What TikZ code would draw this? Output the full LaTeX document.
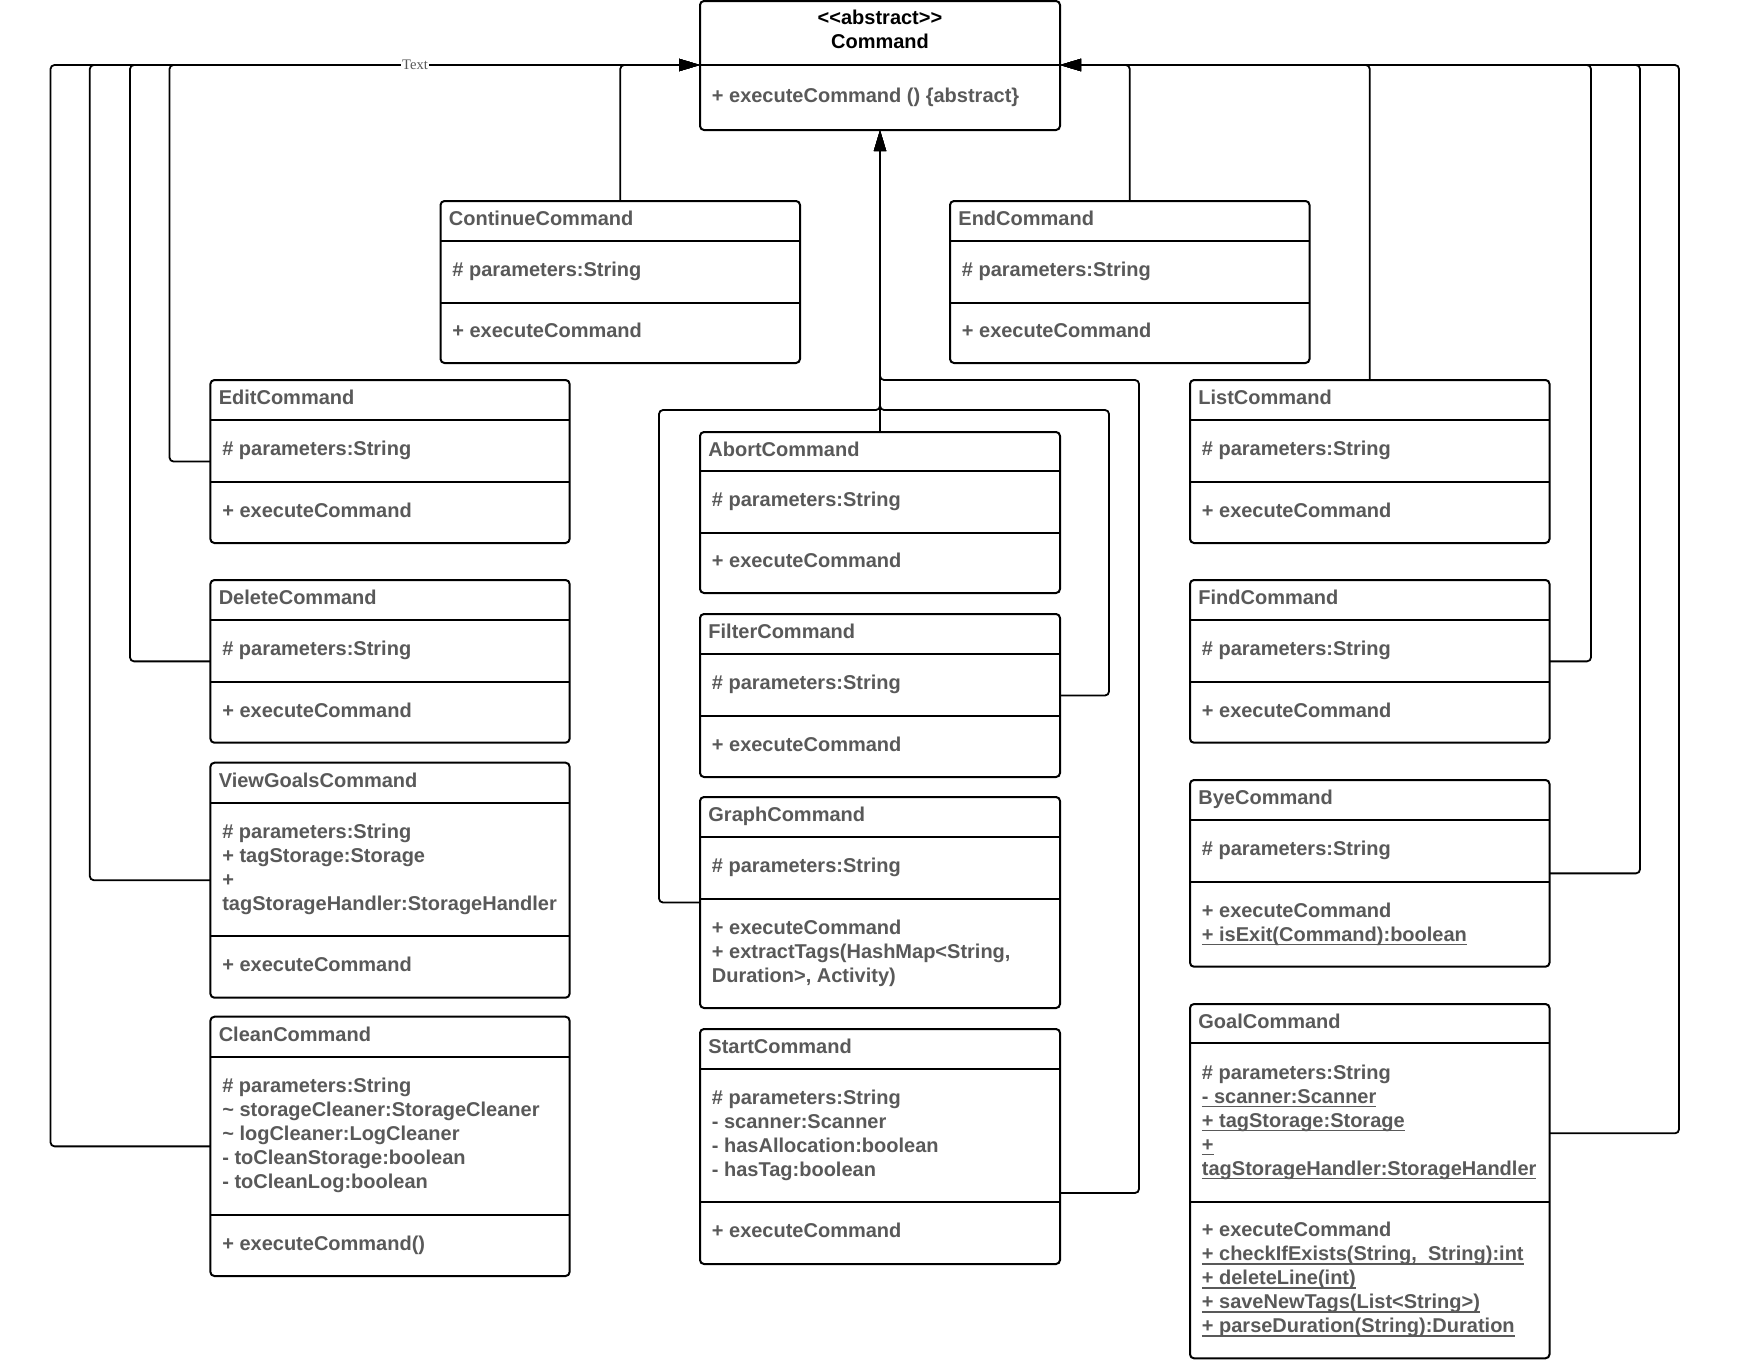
\documentclass[tikz,border=0pt]{standalone}
\usepackage{fontspec}
\setmainfont{Liberation Sans}
\newfontfamily\lblfont{Liberation Serif}
\usetikzlibrary{arrows.meta}
\definecolor{tgray}{RGB}{89,89,89}
\newcommand\NL{\\\strut}
\newcommand\ulx[1]{\setbox0\hbox{#1}\rlap{\vrule height -1.2pt depth 2pt width \wd0}\box0}
\newcommand\setcol[2]{\def\colA{#1}\def\colB{#2}}
\newcommand\cls[8]{%
  \pgfmathsetmacro\clsW{(\colB-\colA)*0.5}%
  \pgfmathsetmacro\clsH{(#5-#2)*0.5}%
  \node[clsbox, minimum width=\clsW pt, minimum height=\clsH pt, anchor=north west] (#1) at (\colA,#2) {};
  \draw[divline] (\colA,#3) -- (\colB,#3) (\colA,#4) -- (\colB,#4);
  \node[ttl] (#1-name) at (\colA+8,{(#2+#3)/2}) {\strut #6};
  \node[mem] (#1-attr) at (\colA+11.5,{(#3+#4)/2}) {\strut #7};
  \node[mem] (#1-ops) at (\colA+11.5,{(#4+#5)/2}) {\strut #8};
}
\begin{document}
\begin{tikzpicture}[x=0.5pt,y=-0.5pt,
  clsbox/.style={draw=black, line width=1pt, rounded corners=2pt, inner sep=0pt, outer sep=0pt, fill=white},
  divline/.style={line width=1pt},
  ttl/.style={anchor=west, inner sep=0pt, align=left, font=\bfseries\fontsize{10}{12}\selectfont, text=tgray},
  mem/.style={ttl},
  conn/.style={line width=0.9pt, rounded corners=2pt},
  inh/.style={conn, -{Triangle[length=10.5pt,width=6pt]}}]
\useasboundingbox (0,0) rectangle (1760,1360);

% abstract Command
\node[clsbox, minimum width=180pt, minimum height=64.5pt, anchor=north west] (cmd) at (700,1) {};
\draw[divline] (700,65) -- (1060,65);
\node[inner sep=0pt, align=center, font=\bfseries\fontsize{10}{12}\selectfont, text=black] (cmd-name) at (880,32) {\strut <{}<abstract>{}>\NL Command};
\node[mem] (cmd-ops) at (711.5,97.5) {\strut + executeCommand () \{abstract\}};
\coordinate (cmdL) at ([yshift=-32pt]cmd.north west);
\coordinate (cmdR) at ([yshift=-32pt]cmd.north east);

\setcol{440.5}{800}
\cls{cont}{201}{240.7}{303}{363}{ContinueCommand}{\# parameters:String}{+ executeCommand}
\setcol{950}{1309.5}
\cls{endc}{201}{240.7}{303}{363}{EndCommand}{\# parameters:String}{+ executeCommand}

\setcol{210.4}{569.6}
\cls{edit}{380}{420}{482}{543}{EditCommand}{\# parameters:String}{+ executeCommand}
\cls{del}{580}{619.5}{682}{742.7}{DeleteCommand}{\# parameters:String}{+ executeCommand}
\cls{view}{762.7}{802.7}{935.7}{997.7}{ViewGoalsCommand}{\# parameters:String\NL + tagStorage:Storage\NL +\NL tagStorageHandler:StorageHandler}{+ executeCommand}
\cls{clean}{1016.7}{1056.7}{1215}{1276}{CleanCommand}{\# parameters:String\NL \textasciitilde{} storageCleaner:StorageCleaner\NL \textasciitilde{} logCleaner:LogCleaner\NL - toCleanStorage:boolean\NL - toCleanLog:boolean}{+ executeCommand()}

\setcol{700}{1060}
\cls{abort}{432}{470.7}{532.7}{593}{AbortCommand}{\# parameters:String}{+ executeCommand}
\cls{filter}{614}{654}{716}{777}{FilterCommand}{\# parameters:String}{+ executeCommand}
\cls{graph}{797}{837}{899}{1008}{GraphCommand}{\# parameters:String}{+ executeCommand\NL + extractTags(HashMap<String,\NL Duration>, Activity)}
\cls{start}{1029}{1069}{1202}{1264}{StartCommand}{\# parameters:String\NL - scanner:Scanner\NL - hasAllocation:boolean\NL - hasTag:boolean}{+ executeCommand}

\setcol{1190}{1549.5}
\cls{list}{380}{420}{482}{543}{ListCommand}{\# parameters:String}{+ executeCommand}
\cls{find}{580}{619.5}{682}{742.7}{FindCommand}{\# parameters:String}{+ executeCommand}
\cls{bye}{780}{820}{882}{966.7}{ByeCommand}{\# parameters:String}{+ executeCommand\NL \ulx{+ isExit(Command):boolean}}
\cls{goal}{1004}{1043.3}{1201.7}{1358.3}{GoalCommand}{\# parameters:String\NL \ulx{- scanner:Scanner}\NL \ulx{+ tagStorage:Storage}\NL \ulx{+}\NL \ulx{tagStorageHandler:StorageHandler}}{+ executeCommand\NL \ulx{+ checkIfExists(String,\ \ String):int}\NL \ulx{+ deleteLine(int)}\NL \ulx{+ saveNewTags(List<String>)}\NL \ulx{+ parseDuration(String):Duration}}

% connectors, left
\draw[inh] (clean.west) -| (50.5,65) -- (cmdL);
\draw[inh] (view.west) -| (89.8,65) -- (cmdL);
\draw[inh] (del.west) -| (130,65) -- (cmdL);
\draw[inh] (edit.west) -| (169.5,65) -- (cmdL);
\draw[inh] (cont.north) |- (cmdL);
% right
\draw[inh] (endc.north) |- (cmdR);
\draw[inh] (list.north) |- (cmdR);
\draw[inh] (find.east) -| (1591,65) -- (cmdR);
\draw[inh] (bye.east) -| (1640,65) -- (cmdR);
\draw[inh] ([yshift=-64.65pt]goal.north east) -| (1679,65) -- (cmdR);
% centre
\draw[inh] (abort.north) -- (cmd.south);
\draw[inh] (filter.east) -| (1109,410) -| (cmd.south);
\draw[inh] (graph.west) -| (659,410) -| (cmd.south);
\draw[inh] ([yshift=-82pt]start.north east) -| (1139,380) -| (cmd.south);

\node[fill=white, inner sep=0.6pt, font=\lblfont\fontsize{7.3}{8}\selectfont, text=tgray] (lbl) at (415,65) {Text};
\end{tikzpicture}
\end{document}
